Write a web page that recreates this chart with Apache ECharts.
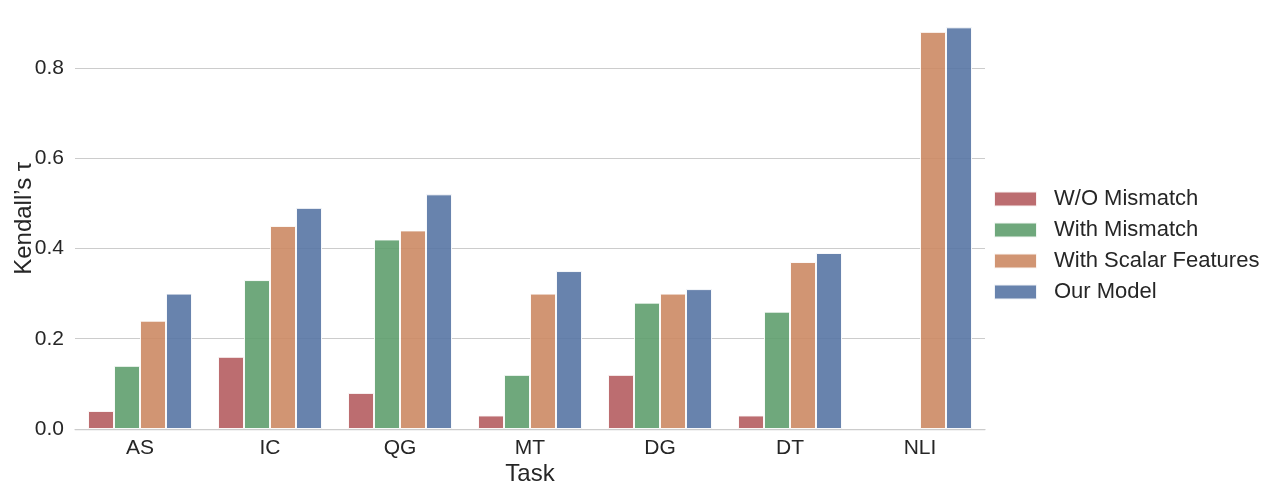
<!DOCTYPE html>
<html>
<head>
<meta charset="utf-8">
<script src="https://cdn.jsdelivr.net/npm/echarts@6/dist/echarts.min.js"></script>
<style>html,body{margin:0;padding:0;background:#fff;}#c{width:1278px;height:493px;}</style>
</head>
<body>
<div id="c"></div>
<script>
const categories = ['AS', 'IC', 'QG', 'MT', 'DG', 'DT', 'NLI'];
const seriesNames = ['W/O Mismatch', 'With Mismatch', 'With Scalar Features', 'Our Model'];
const woMismatch = [0.04, 0.16, 0.08, 0.03, 0.12, 0.03, null];
const withMismatch = [0.14, 0.33, 0.42, 0.12, 0.28, 0.26, null];
const withScalar = [0.24, 0.45, 0.44, 0.30, 0.30, 0.37, 0.88];
const ourModel = [0.30, 0.49, 0.52, 0.35, 0.31, 0.39, 0.89];
const yTicks = [0, 0.2, 0.4, 0.6, 0.8];

const colors = ['#B55D60', '#5F9E6E', '#CC8964', '#5875A4'];
const values = [woMismatch, withMismatch, withScalar, ourModel];
const font = '"Liberation Sans", Arial, sans-serif';
const textColor = '#262626';

const chart = echarts.init(document.getElementById('c'));
chart.setOption({
  animation: false,
  backgroundColor: '#fff',
  grid: { left: 75, right: 293, top: 7.5, bottom: 64, containLabel: false, outerBoundsMode: 'none' },
  legend: {
    orient: 'vertical',
    left: 988,
    top: 183,
    itemWidth: 43,
    itemHeight: 15,
    itemGap: 9,
    icon: 'rect',
    data: seriesNames,
    textStyle: { fontFamily: font, fontSize: 22, lineHeight: 22, color: textColor, padding: [0, 0, 0, 12] }
  },
  xAxis: {
    type: 'category',
    data: categories,
    name: 'Task',
    nameLocation: 'middle',
    nameGap: 33,
    nameMoveOverlap: false,
    nameTextStyle: { fontFamily: font, fontSize: 24, color: textColor },
    axisLine: { show: true, lineStyle: { color: '#cccccc', width: 1.25 } },
    axisTick: { show: false },
    axisLabel: { fontFamily: font, fontSize: 21, color: textColor, margin: 9 }
  },
  yAxis: {
    type: 'value',
    min: 0,
    max: 0.934,
    interval: 0.2,
    name: 'Kendall\u2019s \u03c4',
    nameLocation: 'middle',
    nameGap: 39,
    nameMoveOverlap: false,
    nameTextStyle: { fontFamily: font, fontSize: 24, color: textColor },
    axisLine: { show: false },
    axisTick: { show: false },
    axisLabel: {
      fontFamily: font, fontSize: 21, color: textColor, margin: 11,
      showMaxLabel: false,
      formatter: function (v) { return yTicks.some(t => Math.abs(t - v) < 1e-9) ? v.toFixed(1) : ''; }
    },
    splitLine: { show: true, lineStyle: { color: ['#cccccc', '#cccccc', '#cccccc', '#cccccc', '#cccccc', 'rgba(0,0,0,0)'], width: 1 } }
  },
  series: values.map((vals, i) => ({
    name: seriesNames[i],
    type: 'bar',
    data: vals,
    barGap: '0%',
    barCategoryGap: '20%',
    itemStyle: { color: colors[i], opacity: 0.9, borderColor: '#ffffff', borderWidth: 1 },
    emphasis: { disabled: true }
  }))
});
</script>
</body>
</html>
